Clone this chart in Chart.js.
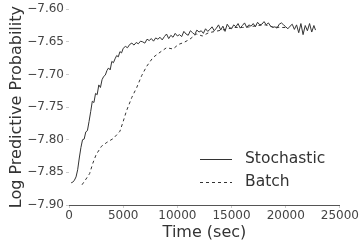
<!DOCTYPE html>
<html>
<head>
<meta charset="utf-8">
<script src="https://cdn.jsdelivr.net/npm/chart.js@4/dist/chart.umd.min.js"></script>
<style>
html,body{margin:0;padding:0;background:#fff;}
#c{display:block;}
</style>
</head>
<body>
<canvas id="c" width="360" height="246"></canvas>
<script>
const stochTime = [200,350,500,650,800,950,1100,1250,1400,1550,1700,1850,
  2000,2150,2300,2450,2600,2750,2900,3050,3200,3350,3500,3650,3800,3950,4100,4250,4400,4550,4700,4850,
  5000,
  5200,5400,5600,5800,6000,6200,6400,6600,6800,7000,7200,7400,7600,7800,8000,8200,8400,8600,8800,9000,
  9200,9400,9600,9800,10000,10200,10400,10600,10800,11000,11200,11400,11600,11800,12000,12200,12400,12600,
  12800,13000,13200,13400,13600,13800,14000,14200,14400,14600,14800,15000,15200,15400,15600,15800,16000,
  16200,16400,16600,16800,17000,17200,17400,17600,17800,18000,18200,18400,18600,18800,19000,19200,19400,
  19600,19800,20000,20200,20400,20600,20800,21000,21200,21400,21600,21800,22000,22200,22400,22600,
  22750];
const stochValues = [-7.866,-7.865,-7.862,-7.857,-7.846,-7.828,-7.812,-7.800,-7.799,-7.788,-7.786,-7.772,
  -7.757,-7.741,-7.743,-7.729,-7.731,-7.716,-7.720,-7.708,-7.703,-7.701,-7.694,-7.690,-7.693,-7.680,-7.682,-7.676,-7.671,-7.673,-7.665,-7.667,
  -7.660,
  -7.657,-7.659,-7.654,-7.652,-7.655,-7.651,-7.653,-7.649,-7.650,-7.652,-7.646,-7.648,-7.645,-7.649,-7.644,-7.646,-7.643,-7.647,-7.642,-7.638,
  -7.645,-7.640,-7.643,-7.637,-7.641,-7.639,-7.642,-7.634,-7.638,-7.640,-7.633,-7.636,-7.639,-7.632,-7.635,-7.633,-7.637,-7.630,
  -7.634,-7.631,-7.627,-7.633,-7.629,-7.624,-7.632,-7.626,-7.634,-7.623,-7.628,-7.630,-7.624,-7.627,-7.622,-7.629,-7.625,
  -7.621,-7.628,-7.624,-7.626,-7.622,-7.627,-7.620,-7.624,-7.623,-7.619,-7.624,-7.621,-7.626,-7.628,-7.627,-7.629,-7.623,
  -7.621,-7.624,-7.627,-7.630,-7.626,-7.623,-7.631,-7.624,-7.636,-7.622,-7.639,-7.625,-7.633,-7.622,-7.635,-7.625,
  -7.632];
const batchTime = [1200,1500,1900,2200,2500,3000,3500,4100,4700,5000,5300,5800,6250,6700,7150,7750,8400,9000,9600,10100,10600,11150,11750,12300,12900,13500,14100,14700,15300,16000,16700,17400,18100,18800,19500,20100];
const batchValues = [-7.869,-7.862,-7.852,-7.836,-7.823,-7.810,-7.804,-7.798,-7.787,-7.772,-7.756,-7.735,-7.720,-7.702,-7.688,-7.674,-7.666,-7.659,-7.661,-7.654,-7.651,-7.646,-7.638,-7.641,-7.636,-7.634,-7.632,-7.630,-7.628,-7.628,-7.627,-7.625,-7.624,-7.627,-7.628,-7.628];
const seriesNames = ['Stochastic','Batch'];
const xTitle = 'Time (sec)';
const yTitle = 'Log Predictive Probability';

const FONT = "'DejaVu Sans', sans-serif";
const ink = '#333333';

const legendPlugin = {
  id: 'innerLegend',
  afterDraw(chart) {
    const ctx = chart.ctx;
    ctx.save();
    const items = [
      {label: seriesNames[0], dash: [], y: 159},
      {label: seriesNames[1], dash: [3, 3], y: 182}
    ];
    items.forEach(it => {
      ctx.strokeStyle = ink;
      ctx.lineWidth = 1;
      ctx.setLineDash(it.dash);
      ctx.beginPath();
      ctx.moveTo(200, it.y + 0.5);
      ctx.lineTo(232, it.y + 0.5);
      ctx.stroke();
      ctx.setLineDash([]);
      ctx.fillStyle = ink;
      ctx.font = "15.5px " + FONT;
      ctx.textBaseline = 'middle';
      ctx.textAlign = 'left';
      ctx.fillText(it.label, 245, it.y);
    });
    ctx.restore();
  }
};

new Chart(document.getElementById('c'), {
  type: 'line',
  data: {
    datasets: [
      {
        label: seriesNames[0],
        data: stochTime.map((t, i) => ({x: t, y: stochValues[i]})),
        borderColor: ink,
        borderWidth: 1,
        pointRadius: 0,
        tension: 0,
        fill: false
      },
      {
        label: seriesNames[1],
        data: batchTime.map((t, i) => ({x: t, y: batchValues[i]})),
        borderColor: ink,
        borderWidth: 1,
        borderDash: [3, 3],
        pointRadius: 0,
        tension: 0,
        fill: false
      }
    ]
  },
  options: {
    responsive: false,
    animation: false,
    layout: {padding: {top: 2, right: 20, bottom: 0, left: 0}},
    plugins: {legend: {display: false}, tooltip: {enabled: false}},
    scales: {
      x: {
        type: 'linear',
        min: 0, max: 25000,
        afterFit(s) { s.height = 41; },
        ticks: {stepSize: 5000, color: '#444', font: {family: FONT, size: 12}, padding: 1, maxRotation: 0,
                callback: v => String(v)},
        grid: {display: true, drawOnChartArea: false, drawTicks: true, tickLength: 3, color: '#cccccc'},
        border: {display: true, color: '#555555', width: 1},
        title: {display: true, text: xTitle, color: ink, font: {family: FONT, size: 16}, padding: {top: 0, bottom: 4}}
      },
      y: {
        min: -7.90, max: -7.60,
        afterFit(s) { s.width = 69; },
        ticks: {stepSize: 0.05, color: '#444', font: {family: FONT, size: 12}, padding: 2,
                callback: v => v.toFixed(2).replace('-', '\u2212')},
        grid: {display: true, drawOnChartArea: false, drawTicks: true, tickLength: 3, color: '#cccccc'},
        border: {display: false},
        title: {display: true, text: yTitle, color: ink, font: {family: FONT, size: 16}, padding: {top: 7, bottom: 0}}
      }
    }
  },
  plugins: [legendPlugin]
});
</script>
</body>
</html>
